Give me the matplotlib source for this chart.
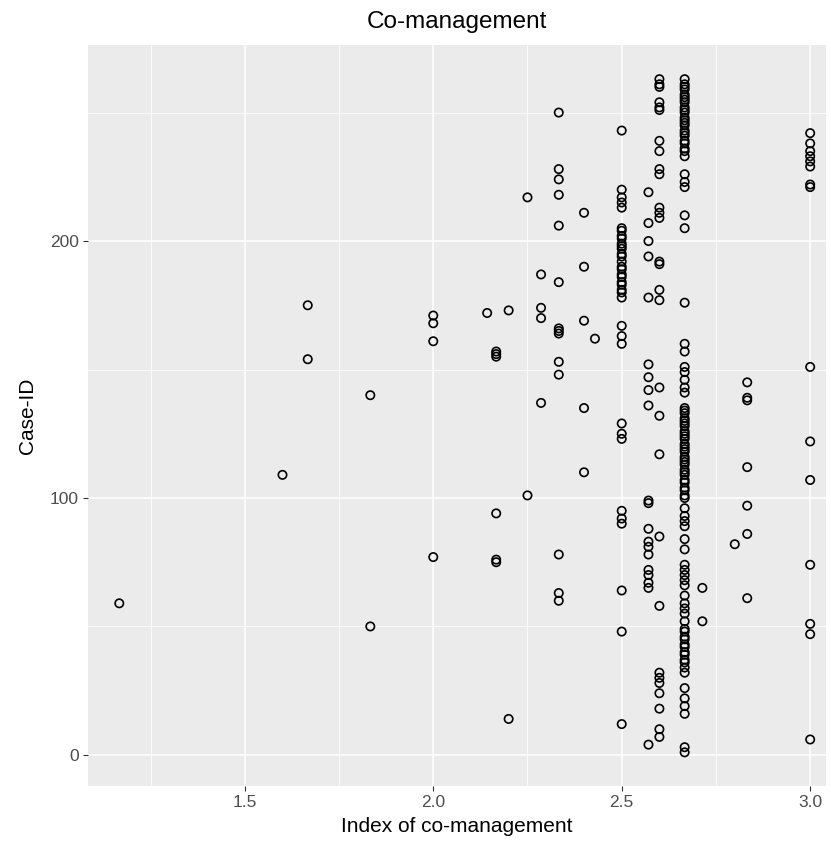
import matplotlib
matplotlib.use("Agg")
import matplotlib.pyplot as plt
import numpy as np
from matplotlib.ticker import MultipleLocator

plt.rcParams["font.family"] = ["Liberation Sans", "DejaVu Sans"]

# x levels of the index and the case IDs seen at each level
index_levels = [1.167, 1.6, 1.667, 1.833, 2.0, 2.143, 2.167, 2.2, 2.25, 2.286,
                2.333, 2.4, 2.429, 2.5, 2.571, 2.6, 2.667, 2.714, 2.8, 2.833, 3.0]

case_ids = [
    [59],
    [109],
    [175, 154],
    [140, 50],
    [171, 168, 161, 77],
    [172],
    [157, 156, 155, 94, 76, 75],
    [173, 14],
    [217, 101],
    [187, 174, 170, 137],
    [250, 228, 224, 218, 206, 184, 166, 165, 164, 153, 148, 78, 63, 60],
    [211, 190, 169, 135, 110],
    [162],
    [243, 220, 217, 215, 213, 205, 204, 202, 201, 199, 198, 197, 195, 194, 192,
     190, 189, 187, 186, 184, 183, 181, 180, 178, 167, 163, 160, 129, 125, 123,
     95, 92, 90, 64, 48, 12],
    [219, 207, 200, 194, 178, 152, 147, 142, 136, 99, 98, 88, 83, 81, 78, 72,
     70, 67, 65, 4],
    [263, 261, 260, 254, 252, 251, 239, 235, 228, 226, 213, 211, 209, 192, 191,
     181, 177, 143, 132, 117, 85, 58, 32, 30, 28, 24, 18, 10, 7],
    [263, 261, 260, 259, 257, 256, 255, 254, 252, 251, 250, 248, 247, 246, 245,
     243, 242, 241, 239, 238, 236, 235, 233, 226, 223, 221, 210, 205, 176, 160,
     157, 151, 149, 146, 143, 141, 135, 134, 133, 131, 130, 129, 128, 126, 125,
     124, 123, 121, 120, 119, 118, 116, 115, 114, 113, 111, 110, 109, 107, 106,
     104, 103, 101, 100, 96, 93, 91, 89, 84, 80, 74, 72, 70, 68, 66, 62, 59, 57,
     55, 52, 49, 48, 46, 45, 43, 42, 40, 39, 37, 36, 34, 32, 26, 22, 19, 16, 3, 1],
    [65, 52],
    [82],
    [145, 139, 138, 112, 97, 86, 61],
    [242, 238, 235, 233, 231, 229, 222, 221, 151, 122, 107, 74, 51, 47, 6],
]

x = np.concatenate([[lv] * len(ids) for lv, ids in zip(index_levels, case_ids)])
y = np.concatenate(case_ids)

W, H = 831, 846
fig = plt.figure(figsize=(W / 100, H / 100), dpi=100)
ax = fig.add_axes([88 / W, 1 - 786 / H, (826 - 88) / W, (786 - 45) / H])

ax.set_facecolor("#EBEBEB")
for s in ax.spines.values():
    s.set_visible(False)

ax.xaxis.set_major_locator(MultipleLocator(0.5))
ax.xaxis.set_minor_locator(MultipleLocator(0.25))
ax.yaxis.set_major_locator(MultipleLocator(100))
ax.yaxis.set_minor_locator(MultipleLocator(50))
ax.grid(which="major", color="white", linewidth=1.1)
ax.grid(which="minor", color="white", linewidth=0.55)
ax.set_axisbelow(True)

ax.scatter(x, y, s=36, facecolors="none", edgecolors="black", linewidths=1.2, zorder=3)

ax.set_xlim(1.084, 3.042)
ax.set_ylim(-12.1, 276.3)
ax.xaxis.set_major_formatter(plt.FormatStrFormatter("%.1f"))

ax.tick_params(which="major", length=3.5, width=0.8, color="#333333",
               labelcolor="#4D4D4D", labelsize=12.5, pad=3)
ax.tick_params(which="minor", length=0)

ax.set_title("Co-management", fontsize=17.5, pad=12)
ax.set_xlabel("Index of co-management", fontsize=15, labelpad=5)
ax.set_ylabel("Case-ID", fontsize=15, labelpad=9)

fig.savefig("out.png", dpi=100)
